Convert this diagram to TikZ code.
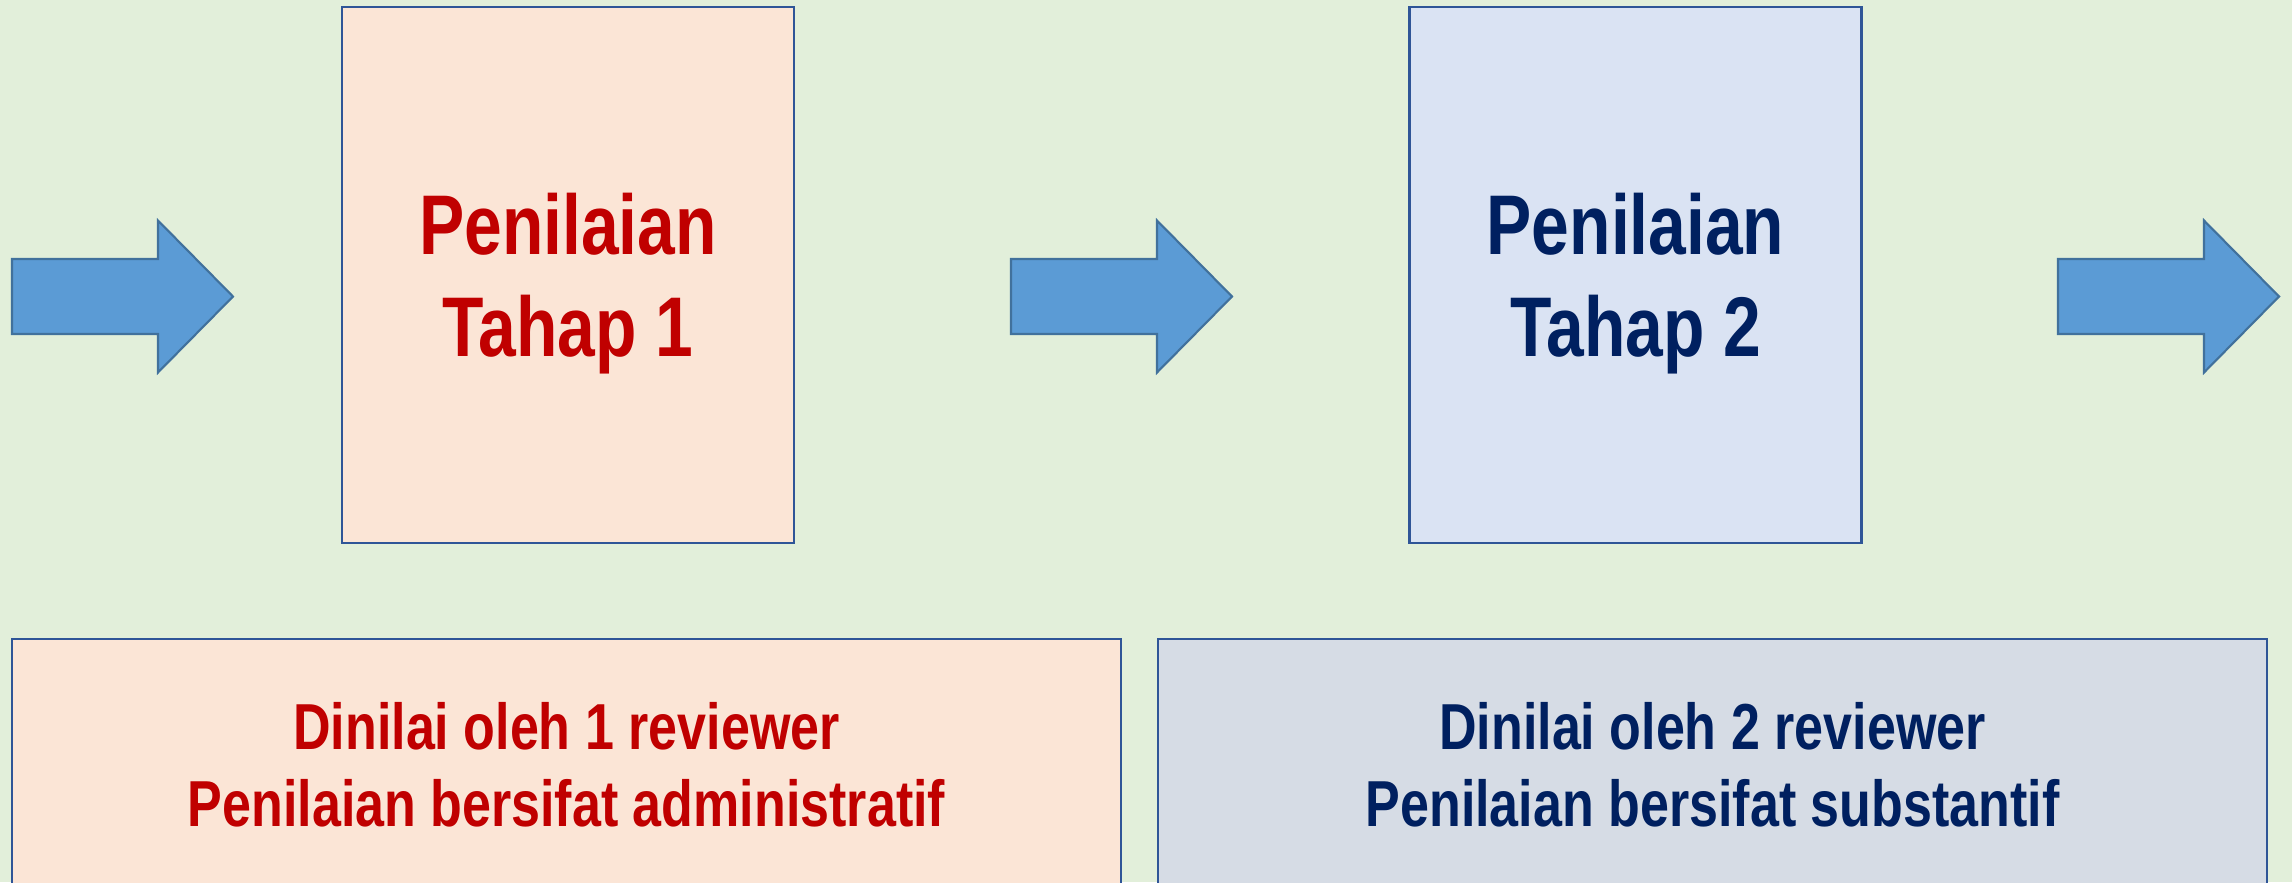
\documentclass[tikz,border=0pt]{standalone}
\usepackage{xcolor}
\usepackage{fontspec}
\setmainfont{Liberation Sans}[FakeStretch=0.8]
\usepackage{tikz}

\definecolor{bggreen}{HTML}{E2EFDA}
\definecolor{peach}{HTML}{FBE5D6}
\definecolor{paleblue}{HTML}{DAE3F3}
\definecolor{greyblue}{HTML}{D6DCE5}
\definecolor{edgeblue}{HTML}{2F5597}
\definecolor{arrowblue}{HTML}{5B9BD5}
\definecolor{arrowedge}{HTML}{41719C}
\definecolor{darkred}{HTML}{C00000}
\definecolor{navy}{HTML}{002060}

\begin{document}
\begin{tikzpicture}[line width=0.6pt,
    stagebox/.style={draw=edgeblue, minimum width=4.52cm, minimum height=5.36cm,
        align=center, font=\bfseries\fontsize{24.1}{29}\selectfont},
    notebox/.style={draw=edgeblue, minimum width=11.09cm, minimum height=2.52cm,
        align=center, font=\bfseries\fontsize{18.5}{21.8}\selectfont},
    blockarrow/.style={draw=arrowedge, fill=arrowblue}]
        \useasboundingbox (0,0) rectangle (22.92,8.82);
        \fill[bggreen] (0,0) rectangle (22.92,8.82);
        \clip (0,0) rectangle (22.92,8.82);
        % Stages
        \node[stagebox, fill=peach, text=darkred] (tahap1) at (5.68,6.07) {\rule{0pt}{0.79cm}Penilaian\\Tahap 1};
        \node[stagebox, fill=paleblue, text=navy] (tahap2) at (16.355,6.07) {\rule{0pt}{0.79cm}Penilaian\\Tahap 2};
        % Notes below the stages
        \node[notebox, fill=peach, text=darkred] (ket1) at (5.665,1.17) {Dinilai oleh 1 reviewer\\Penilaian bersifat administratif};
        \node[notebox, fill=greyblue, text=navy] (ket2) at (17.125,1.17) {Dinilai oleh 2 reviewer\\Penilaian bersifat substantif};
        % Block arrows
        \foreach \x/\name in {0.12/panahA, 10.11/panahB, 20.58/panahC} {
            \coordinate (\name) at (\x,5.855);
            \draw[blockarrow] (\name) ++(0,0.375) -- ++(1.46,0) -- ++(0,0.385)
                -- ++(0.75,-0.76) -- ++(-0.75,-0.76) -- ++(0,0.385) -- ++(-1.46,0) -- cycle;
        }
    \end{tikzpicture}
\end{document}
